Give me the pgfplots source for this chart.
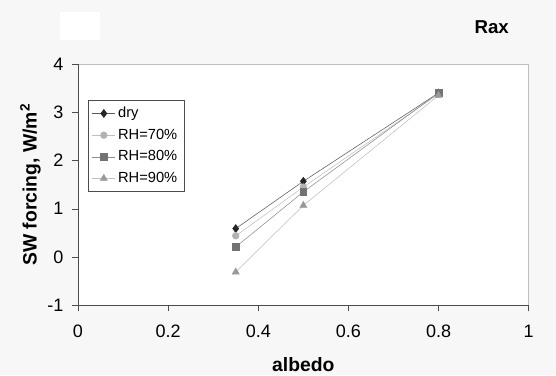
\documentclass[border=0pt]{standalone}
\usepackage{pgfplots}
\pgfplotsset{compat=1.18}
\usepackage{fontspec}
\setmainfont{Liberation Sans}
\begin{document}
\begin{tikzpicture}
\path[use as bounding box, fill=black!3] (-58.5pt,-52.5pt) rectangle (358.5pt,229pt);
\fill[white] (-13.5pt,199pt) rectangle (16.5pt,220pt);
\begin{axis}[
  scale only axis, width=338pt, height=181pt,
  xmin=0, xmax=1, ymin=-1, ymax=4,
  xtick={0,0.2,0.4,0.6,0.8,1}, ytick={-1,0,1,2,3,4},
  axis background/.style={fill=white},
  axis line style={black!25},
  tick align=outside, tick pos=left,
  major tick length=4.5pt,
  every tick/.style={black!70},
  /pgf/number format/assume math mode=true,
  ticklabel style={font=\fontsize{13.5}{15}\selectfont},
  xticklabel style={yshift=-7pt},
  yticklabel style={xshift=-3pt},
  xlabel={\textbf{albedo}}, ylabel={\textbf{SW forcing, W/m$^{\mathbf{2}}$}},
  label style={font=\fontsize{14.5}{16}\selectfont},
  xlabel style={yshift=-7.5pt},
  ylabel style={yshift=-2pt},
  legend style={at={(rel axis cs:0.022,0.85)}, anchor=north west,
    font=\fontsize{11}{12}\selectfont, draw=black!70, row sep=3pt,
    inner sep=3pt},
  legend cell align=left,
  clip=false,
]
\draw[black!70] (rel axis cs:0,0) -- (rel axis cs:1,0);
\draw[black!70] (rel axis cs:0,0) -- (rel axis cs:0,1);
\addplot[black!65, mark=diamond*, mark size=3pt, mark options={fill=black!85, draw=black!85}] coordinates {(0.35,0.59) (0.5,1.57) (0.8,3.40)};
\addlegendentry{dry}
\addplot[black!25, mark=*, mark size=2.5pt, mark options={fill=black!30, draw=black!30}] coordinates {(0.35,0.44) (0.5,1.45) (0.8,3.38)};
\addlegendentry{RH=70\%}
\addplot[black!45, mark=square*, mark size=2.5pt, mark options={fill=black!55, draw=black!55}] coordinates {(0.35,0.21) (0.5,1.35) (0.8,3.40)};
\addlegendentry{RH=80\%}
\addplot[black!25, mark=triangle*, mark size=3pt, mark options={fill=black!40, draw=black!40}] coordinates {(0.35,-0.31) (0.5,1.07) (0.8,3.35)};
\addlegendentry{RH=90\%}
\node[font=\bfseries\fontsize{14}{16}\selectfont] at (rel axis cs:0.918,1.153) {Rax};
\end{axis}
\end{tikzpicture}
\end{document}
